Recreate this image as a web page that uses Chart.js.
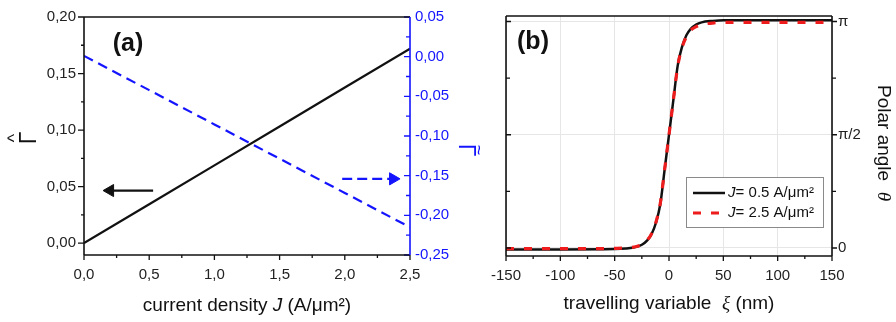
<!DOCTYPE html>
<html>
<head>
<meta charset="utf-8">
<script src="https://cdn.jsdelivr.net/npm/chart.js"></script>
<style>
  html, body { margin: 0; padding: 0; background: #fff; }
  #wrap { position: relative; width: 896px; height: 322px; overflow: hidden; }
  #chartA { position: absolute; left: 0; top: 0; }
  #chartB { position: absolute; left: 480px; top: 0; }
</style>
</head>
<body>
<div id="wrap">
  <canvas id="chartA" width="490" height="322"></canvas>
  <canvas id="chartB" width="416" height="322"></canvas>
</div>
<script>
// ---- panel (a): torque coefficients vs current density ----
var currentJ   = [0, 0.5, 1.0, 1.5, 2.0, 2.5];
var gammaHat   = [0, 0.0344, 0.0688, 0.1032, 0.1376, 0.172];
var gammaTilde = [0.001, -0.0422, -0.0854, -0.1286, -0.1718, -0.215];
// arrows telling which axis each curve belongs to
var arrowBlackJ = [0.53, 0.2];
var arrowBlackY = [0.0465, 0.0465];
var arrowBlueJ  = [1.98, 2.37];
var arrowBlueY  = [-0.154, -0.154];

var ticksJ        = [0, 0.5, 1.0, 1.5, 2.0, 2.5];
var minorJ        = [0.25, 0.75, 1.25, 1.75, 2.25];
var ticksHat      = [0, 0.05, 0.10, 0.15, 0.20];
var minorHat      = [0.025, 0.075, 0.125, 0.175];
var ticksTilde    = [0.05, 0, -0.05, -0.10, -0.15, -0.20, -0.25];
var minorTilde    = [0.025, -0.025, -0.075, -0.125, -0.175, -0.225];

// ---- panel (b): domain wall profile ----
var xi = [-150, -100, -50, -40, -30, -25, -20, -16, -12, -8, -4, 0, 4, 8, 12, 16, 20, 25, 30, 40, 50, 100, 150];
var thetaJ05 = [-0.02, -0.02, -0.015, -0.008, 0.015, 0.045, 0.105, 0.195, 0.35, 0.61, 1.09, 1.57, 2.05, 2.53, 2.79, 2.95, 3.04, 3.10, 3.13, 3.15, 3.16, 3.16, 3.16];
var thetaJ25 = [-0.01, -0.01, -0.005, 0.0, 0.02, 0.05, 0.11, 0.2, 0.36, 0.62, 1.09, 1.57, 2.05, 2.52, 2.78, 2.93, 3.02, 3.07, 3.10, 3.12, 3.13, 3.13, 3.13];

var ticksXi     = [-150, -100, -50, 0, 50, 100, 150];
var minorXi     = [-125, -75, -25, 25, 75, 125];
var ticksTheta  = [0, Math.PI / 2, Math.PI];
var labelsTheta = ['0', 'π/2', 'π'];
var minorTheta  = [Math.PI / 4, 3 * Math.PI / 4];

var SANS = '"Liberation Sans", Arial, sans-serif';
var SERIF = '"Liberation Serif", "Times New Roman", serif';
var BLUE = '#1414ff';
Chart.defaults.font.family = SANS;
Chart.defaults.font.size = 15;
Chart.defaults.color = '#222';

function comma(v, d) {
  return Number(v).toFixed(d).replace('.', ',');
}
function pts(xs, ys) {
  return xs.map(function (x, i) { return { x: x, y: ys[i] }; });
}
function fixTicks(list) {
  return function (s) { s.ticks = list.map(function (v) { return { value: v }; }); };
}

// draws a row of text runs centred on (x, y); a run with "over" sits on the previous one
function drawRuns(ctx, runs, x, y, angle) {
  ctx.save();
  ctx.translate(x, y);
  ctx.rotate(angle || 0);
  var total = 0;
  runs.forEach(function (r) {
    ctx.font = r.f;
    r.w = ctx.measureText(r.t).width;
    if (!r.over) total += r.w;
  });
  var cx = -total / 2, prev = null;
  ctx.textBaseline = 'middle';
  runs.forEach(function (r) {
    ctx.font = r.f;
    ctx.fillStyle = r.c || '#111';
    if (r.over && prev) {
      ctx.textAlign = 'center';
      ctx.fillText(r.t, prev.x + prev.w / 2 + (r.dx || 0), r.dy || 0);
    } else {
      ctx.textAlign = 'left';
      ctx.fillText(r.t, cx, r.dy || 0);
      prev = { x: cx, w: r.w };
      cx += r.w;
    }
  });
  ctx.restore();
}

// tick marks, frame, texts and legend box
var decor = {
  id: 'decor',
  afterDraw: function (chart, args, o) {
    var ctx = chart.ctx, a = chart.chartArea;
    ctx.save();
    (o.marks || []).forEach(function (m) {
      var s = chart.scales[m.scale];
      ctx.strokeStyle = m.color || '#111';
      ctx.lineWidth = 1.3;
      ctx.beginPath();
      m.values.forEach(function (v) {
        var p = s.getPixelForValue(v);
        if (m.edge === 'bottom') { ctx.moveTo(p, a.bottom); ctx.lineTo(p, a.bottom + m.len); }
        if (m.edge === 'left') { ctx.moveTo(a.left, p); ctx.lineTo(a.left - m.len, p); }
        if (m.edge === 'right') { ctx.moveTo(a.right, p); ctx.lineTo(a.right + m.len, p); }
      });
      ctx.stroke();
    });
    (o.frame || []).forEach(function (f) {
      ctx.strokeStyle = f.color;
      ctx.lineWidth = 1.6;
      ctx.beginPath();
      if (f.edge === 'top') { ctx.moveTo(a.left, a.top); ctx.lineTo(a.right, a.top); }
      if (f.edge === 'bottom') { ctx.moveTo(a.left, a.bottom); ctx.lineTo(a.right, a.bottom); }
      if (f.edge === 'left') { ctx.moveTo(a.left, a.top); ctx.lineTo(a.left, a.bottom); }
      if (f.edge === 'right') { ctx.moveTo(a.right, a.top); ctx.lineTo(a.right, a.bottom); }
      ctx.stroke();
    });
    if (o.legend) {
      var L = o.legend;
      ctx.fillStyle = '#fff';
      ctx.fillRect(L.x, L.y, L.w, L.h);
      ctx.strokeStyle = '#8a8a8a';
      ctx.lineWidth = 1;
      ctx.strokeRect(L.x + 0.5, L.y + 0.5, L.w, L.h);
      L.items.forEach(function (it, i) {
        var ds = chart.data.datasets[it.dataset];
        var yy = L.y + L.row0 + i * L.rowGap;
        ctx.save();
        ctx.strokeStyle = ds.borderColor;
        ctx.lineWidth = ds.borderWidth;
        ctx.setLineDash(ds.borderDash || []);
        ctx.beginPath();
        ctx.moveTo(L.x + 7, yy);
        ctx.lineTo(L.x + 39, yy);
        ctx.stroke();
        ctx.restore();
        drawRuns(ctx, it.runs, L.x + 43 + it.width / 2, yy, 0);
      });
    }
    (o.texts || []).forEach(function (t) {
      drawRuns(ctx, t.runs, t.x, t.y, t.angle);
    });
    ctx.restore();
  }
};

new Chart(document.getElementById('chartA'), {
  type: 'line',
  data: {
    datasets: [
      { data: pts(currentJ, gammaHat), yAxisID: 'y', borderColor: '#111', borderWidth: 2.2, pointRadius: 0 },
      { data: pts(currentJ, gammaTilde), yAxisID: 'y2', borderColor: BLUE, borderWidth: 2.2, borderDash: [10, 6], pointRadius: 0 },
      { data: pts(arrowBlackJ, arrowBlackY), yAxisID: 'y', borderColor: '#111', borderWidth: 2.2,
        pointRadius: [0, 7], pointStyle: 'triangle', rotation: -90, pointBackgroundColor: '#111', pointBorderColor: '#111', pointBorderWidth: 1 },
      { data: pts(arrowBlueJ, arrowBlueY), yAxisID: 'y2', borderColor: BLUE, borderWidth: 2.2, borderDash: [10, 5],
        pointRadius: [0, 7], pointStyle: 'triangle', rotation: 90, pointBackgroundColor: BLUE, pointBorderColor: BLUE, pointBorderWidth: 1 }
    ]
  },
  options: {
    responsive: false,
    animation: false,
    events: [],
    layout: { padding: { top: 16, left: 0, right: 0, bottom: 0 } },
    plugins: {
      legend: { display: false },
      tooltip: { enabled: false },
      decor: {
        marks: [
          { scale: 'x', values: ticksJ, edge: 'bottom', len: 5 },
          { scale: 'x', values: minorJ, edge: 'bottom', len: 3 },
          { scale: 'y', values: ticksHat, edge: 'left', len: 6 },
          { scale: 'y', values: minorHat, edge: 'left', len: 3 },
          { scale: 'y2', values: ticksTilde, edge: 'right', len: -6, color: BLUE },
          { scale: 'y2', values: minorTilde, edge: 'right', len: -4, color: BLUE }
        ],
        frame: [
          { edge: 'top', color: '#111' }, { edge: 'bottom', color: '#111' },
          { edge: 'left', color: '#111' }, { edge: 'right', color: BLUE }
        ],
        texts: [
          { runs: [{ t: '(a)', f: 'bold 25px ' + SANS }], x: 128, y: 44 },
          { runs: [{ t: 'current density ', f: '19px ' + SANS }, { t: 'J', f: 'italic 19px ' + SANS },
                   { t: ' (A/μm²)', f: '19px ' + SANS }], x: 247, y: 306 },
          { runs: [{ t: 'Γ', f: '23px ' + SANS }, { t: '^', f: '18px ' + SANS, over: true, dy: -15 }],
            x: 30, y: 138, angle: -Math.PI / 2 },
          { runs: [{ t: 'Γ', f: '23px ' + SANS, c: BLUE }, { t: '~', f: '18px ' + SANS, c: BLUE, over: true, dy: -13 }],
            x: 465, y: 150, angle: Math.PI / 2 }
        ]
      }
    },
    scales: {
      x: {
        type: 'linear', min: 0, max: 2.5,
        afterBuildTicks: fixTicks(ticksJ),
        afterFit: function (s) { s.height = 67; },
        grid: { display: false, drawTicks: false },
        border: { display: false },
        ticks: { padding: 11, maxRotation: 0, autoSkip: false, callback: function (v) { return comma(v, 1); } }
      },
      y: {
        type: 'linear', position: 'left', min: -0.0105, max: 0.2,
        afterBuildTicks: fixTicks(ticksHat),
        afterFit: function (s) { s.width = 84; },
        grid: { display: false, drawTicks: false },
        border: { display: false },
        ticks: { padding: 8, callback: function (v) { return comma(v, 2); } }
      },
      y2: {
        type: 'linear', position: 'right', min: -0.25, max: 0.05,
        afterBuildTicks: fixTicks(ticksTilde),
        afterFit: function (s) { s.width = 80; },
        grid: { display: false, drawTicks: false },
        border: { display: false },
        ticks: { padding: 5, color: BLUE, callback: function (v) { return comma(v, 2); } }
      }
    }
  },
  plugins: [decor]
});

new Chart(document.getElementById('chartB'), {
  type: 'line',
  data: {
    datasets: [
      { data: pts(xi, thetaJ05), borderColor: '#111', borderWidth: 2.5, pointRadius: 0,
        cubicInterpolationMode: 'monotone', order: 1 },
      { data: pts(xi, thetaJ25), borderColor: '#ee1c1c', borderWidth: 3.2, borderDash: [8, 10], pointRadius: 0,
        cubicInterpolationMode: 'monotone', order: 0 }
    ]
  },
  options: {
    responsive: false,
    animation: false,
    events: [],
    layout: { padding: { top: 16, left: 25, right: 0, bottom: 0 } },
    plugins: {
      legend: { display: false },
      tooltip: { enabled: false },
      decor: {
        marks: [
          { scale: 'x', values: ticksXi, edge: 'bottom', len: 5 },
          { scale: 'x', values: minorXi, edge: 'bottom', len: 3 },
          { scale: 'y', values: ticksTheta, edge: 'right', len: 5 },
          { scale: 'y', values: minorTheta, edge: 'right', len: 4 },
          { scale: 'y', values: ticksTheta, edge: 'left', len: -5 },
          { scale: 'y', values: minorTheta, edge: 'left', len: -4 }
        ],
        frame: [
          { edge: 'top', color: '#111' }, { edge: 'bottom', color: '#111' },
          { edge: 'left', color: '#111' }, { edge: 'right', color: '#111' }
        ],
        legend: {
          x: 206, y: 177, w: 137, h: 50, row0: 16, rowGap: 20,
          items: [
            { dataset: 0, width: 84, runs: [{ t: 'J', f: 'italic 15px ' + SANS }, { t: '= 0.5 A/μm²', f: '15px ' + SANS }] },
            { dataset: 1, width: 84, runs: [{ t: 'J', f: 'italic 15px ' + SANS }, { t: '= 2.5 A/μm²', f: '15px ' + SANS }] }
          ]
        },
        texts: [
          { runs: [{ t: '(b)', f: 'bold 25px ' + SANS }], x: 53, y: 42 },
          { runs: [{ t: 'travelling variable  ', f: '19px ' + SANS }, { t: 'ξ', f: 'italic 19px ' + SERIF },
                   { t: ' (nm)', f: '19px ' + SANS }], x: 189, y: 304 },
          { runs: [{ t: 'Polar angle  ', f: '19px ' + SANS }, { t: 'θ', f: 'italic 19px ' + SERIF }],
            x: 403, y: 143, angle: Math.PI / 2 }
        ]
      }
    },
    scales: {
      x: {
        type: 'linear', min: -150, max: 150,
        afterBuildTicks: fixTicks(ticksXi),
        afterFit: function (s) { s.height = 66; },
        grid: { color: '#e6e6e6', lineWidth: 1, drawTicks: false },
        border: { display: false },
        ticks: { padding: 11, maxRotation: 0, autoSkip: false }
      },
      y: {
        type: 'linear', position: 'right', min: -0.111, max: 3.218,
        afterBuildTicks: fixTicks(ticksTheta),
        afterFit: function (s) { s.width = 64; },
        grid: { color: '#e6e6e6', lineWidth: 1, drawTicks: false },
        border: { display: false },
        ticks: { padding: 6, callback: function (v, i) { return labelsTheta[i]; } }
      }
    }
  },
  plugins: [decor]
});
</script>
</body>
</html>
